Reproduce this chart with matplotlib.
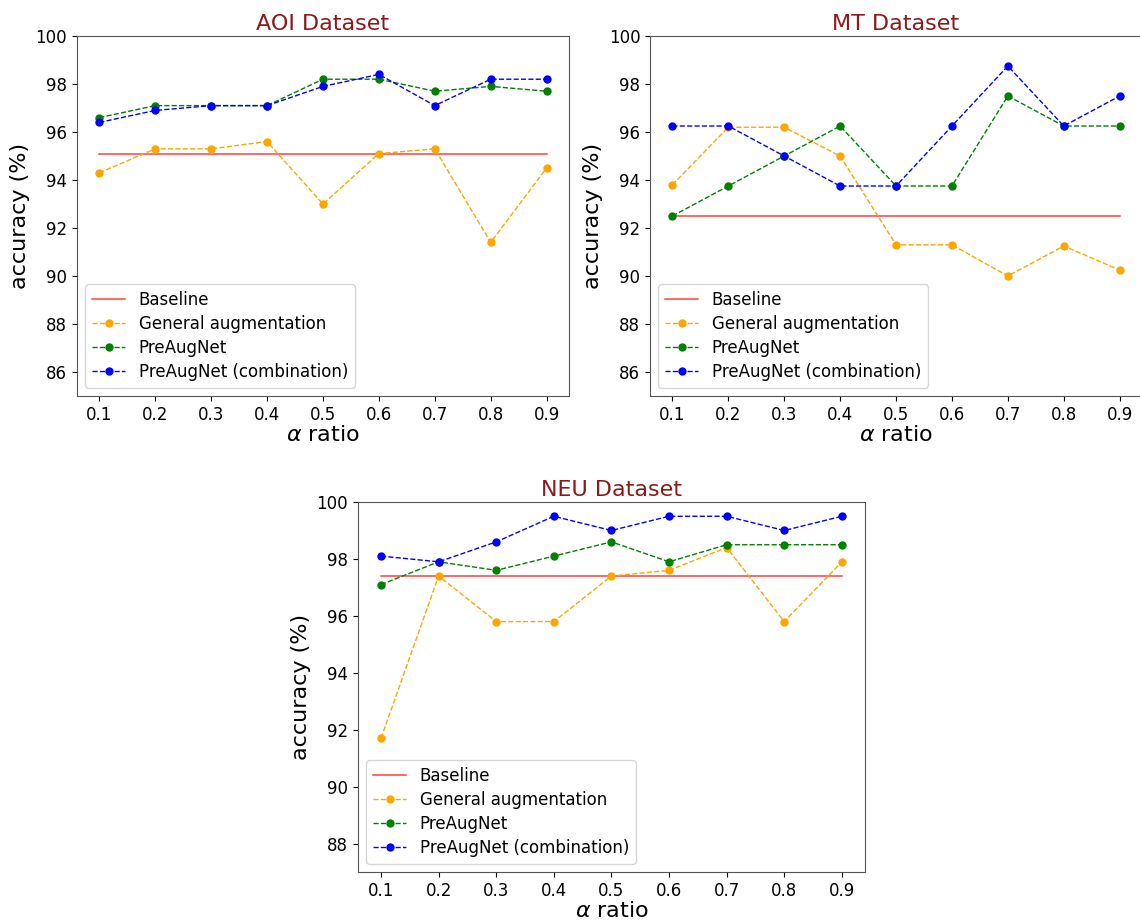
import numpy as np
import matplotlib
matplotlib.use('Agg')
import matplotlib.pyplot as plt

ratios = [0.1, 0.2, 0.3, 0.4, 0.5, 0.6, 0.7, 0.8, 0.9]

# AOI dataset
aoi_base = 95.1
aoi_general = [94.3, 95.3, 95.3, 95.6, 93.0, 95.1, 95.3, 91.4, 94.5]
aoi_preaug = [96.6, 97.1, 97.1, 97.1, 98.2, 98.2, 97.7, 97.9, 97.7]
aoi_comb = [96.4, 96.9, 97.1, 97.1, 97.9, 98.4, 97.1, 98.2, 98.2]

# MT dataset
mt_base = 92.5
mt_general = [93.8, 96.2, 96.2, 95.0, 91.3, 91.3, 90.0, 91.25, 90.25]
mt_preaug = [92.5, 93.75, 95.0, 96.25, 93.75, 93.75, 97.5, 96.25, 96.25]
mt_comb = [96.25, 96.25, 95.0, 93.75, 93.75, 96.25, 98.75, 96.25, 97.5]

# NEU dataset
neu_base = 97.4
neu_general = [91.7, 97.4, 95.8, 95.8, 97.4, 97.6, 98.4, 95.8, 97.9]
neu_preaug = [97.1, 97.9, 97.6, 98.1, 98.6, 97.9, 98.5, 98.5, 98.5]
neu_comb = [98.1, 97.9, 98.6, 99.5, 99.0, 99.5, 99.5, 99.0, 99.5]

fig = plt.figure(figsize=(11.4, 9.21), dpi=100)

ax1 = fig.add_axes([0.0675, 0.570, 0.4316, 0.3909])
ax2 = fig.add_axes([0.5702, 0.570, 0.4316, 0.3909])
ax3 = fig.add_axes([0.314, 0.0532, 0.4447, 0.4017])


def draw(ax, title, base, general, preaug, comb, ylo, yticks):
    ax.plot(ratios, [base] * len(ratios), color='red', lw=1.1, alpha=0.75, label='Baseline')
    ax.plot(ratios, general, '--o', color='orange', lw=1, ms=5, label='General augmentation')
    ax.plot(ratios, preaug, '--o', color='green', lw=1, ms=5, label='PreAugNet')
    ax.plot(ratios, comb, '--o', color='blue', lw=1, ms=5, label='PreAugNet (combination)')
    ax.set_ylim(ylo, 100)
    ax.set_yticks(yticks)
    ax.set_xticks(ratios)
    ax.tick_params(labelsize=12)
    ax.set_title(title, color='#8b1a1a', fontsize=16, pad=4)
    ax.set_xlabel(r'$\alpha$ ratio', fontsize=16, labelpad=1)
    ax.set_ylabel('accuracy (%)', fontsize=16)
    for s in ax.spines.values():
        s.set_color('#555555')
    ax.legend(loc='lower left', fontsize=12, labelspacing=0.36)


draw(ax1, 'AOI Dataset', aoi_base, aoi_general, aoi_preaug, aoi_comb, 85, range(86, 101, 2))
draw(ax2, 'MT Dataset', mt_base, mt_general, mt_preaug, mt_comb, 85, range(86, 101, 2))
draw(ax3, 'NEU Dataset', neu_base, neu_general, neu_preaug, neu_comb, 87, range(88, 101, 2))

fig.savefig('out.png', dpi=100)
